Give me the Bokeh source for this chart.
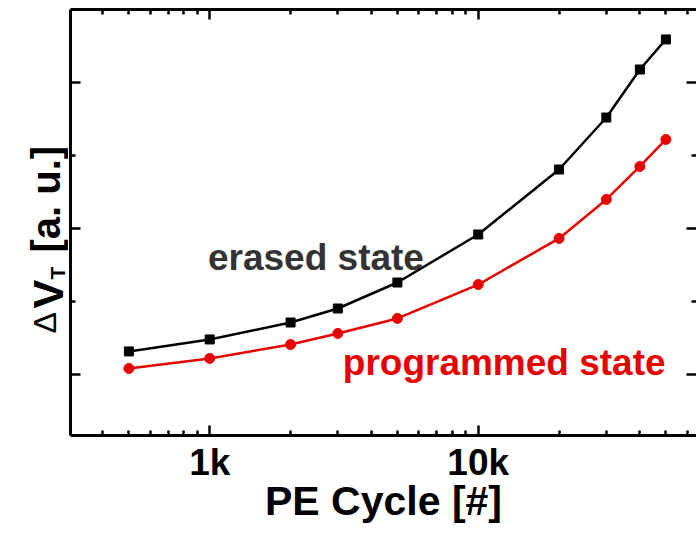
from math import pi
from bokeh.plotting import figure
from bokeh.layouts import row
from bokeh.core.properties import value
from bokeh.models import FixedTicker, LinearAxis, LogAxis, Label, Range1d
from bokeh.embed import file_html
from bokeh.resources import INLINE

# ---- data ----
pe_cycles = [500, 1000, 2000, 3000, 5000, 10000, 20000, 30000, 40000, 50000]
erased = [1.158, 1.240, 1.356, 1.452, 1.630, 1.959, 2.404, 2.760, 3.089, 3.295]
programmed = [1.041, 1.110, 1.205, 1.281, 1.384, 1.616, 1.932, 2.199, 2.425, 2.610]

x_tick_values = [1000, 10000]
x_tick_labels = ["1k", "10k"]
x_minor_ticks = [300, 400, 500, 600, 700, 800, 900,
                 2000, 3000, 4000, 5000, 6000, 7000, 8000, 9000,
                 20000, 30000, 40000, 50000, 60000]
y_tick_values = [1, 2, 3]
y_minor_ticks = [1.5, 2.5]

FONT = "Liberation Sans"
RED = "#e60000"
H = 536
LEFT_W = 68

# ---- main plot ----
p = figure(width=696 - LEFT_W, height=H, x_axis_type="log",
           x_range=Range1d(303, 65000), y_range=Range1d(0.582, 3.5),
           output_backend="svg", toolbar_location=None,
           min_border_left=2, min_border_right=0, min_border_top=9,
           min_border_bottom=101)
p.outline_line_color = None
p.xgrid.visible = False
p.ygrid.visible = False
p.background_fill_color = "white"
p.border_fill_color = "white"

xt = FixedTicker(ticks=x_tick_values, minor_ticks=x_minor_ticks)
yt = FixedTicker(ticks=y_tick_values, minor_ticks=y_minor_ticks)


def style(ax, labels=False):
    ax.axis_line_width = 3
    ax.axis_line_color = "black"
    ax.major_tick_in = 10
    ax.major_tick_out = 0
    ax.minor_tick_in = 5
    ax.minor_tick_out = 0
    ax.major_tick_line_width = 2.5
    ax.minor_tick_line_width = 2.5
    ax.major_tick_line_color = "black"
    ax.minor_tick_line_color = "black"
    if not labels:
        ax.major_label_text_font_size = "1px"
        ax.major_label_text_alpha = 0
        ax.major_label_standoff = 0


xb = p.xaxis[0]
xb.ticker = xt
style(xb, labels=True)
xb.major_label_overrides = {v: s for v, s in zip(x_tick_values, x_tick_labels)}
xb.major_label_text_font = FONT
xb.major_label_text_font_style = "bold"
xb.major_label_text_font_size = "37px"
xb.major_label_text_color = "black"
xb.major_label_standoff = 6
xb.axis_label = "PE Cycle [#]"
xb.axis_label_text_font = FONT
xb.axis_label_text_font_style = "bold"
xb.axis_label_text_font_size = "41px"
xb.axis_label_text_color = "black"
xb.axis_label_standoff = -8

yl = p.yaxis[0]
yl.ticker = yt
style(yl)

xa = LogAxis(ticker=xt)
style(xa)
p.add_layout(xa, "above")

yr = LinearAxis(ticker=yt)
style(yr)
yr.axis_line_color = None
p.add_layout(yr, "right")

# ---- data marks ----
p.line(pe_cycles, erased, line_color="black", line_width=2.5)
p.scatter(pe_cycles, erased, marker="square", size=9, color="black")
p.line(pe_cycles, programmed, line_color=RED, line_width=2.5)
p.scatter(pe_cycles, programmed, marker="circle", size=10, color=RED)

# ---- annotations ----
p.add_layout(Label(x=985, y=1.80, text="erased state", text_font=FONT,
                   text_font_style="bold", text_font_size="37px",
                   text_color="#333333", text_baseline="alphabetic"))
p.add_layout(Label(x=3130, y=1.082, text="programmed state", text_font=FONT,
                   text_font_style="bold", text_font_size="37px",
                   text_color=RED, text_baseline="alphabetic"))

# ---- y axis title panel (delta, V, subscript T, unit), pixel-like coords ----
q = figure(frame_width=LEFT_W, frame_height=H,
           x_range=Range1d(0, LEFT_W), y_range=Range1d(0, H),
           x_axis_location=None, y_axis_location=None,
           output_backend="svg", toolbar_location=None,
           min_border_left=0, min_border_right=0, min_border_top=0, min_border_bottom=0)
q.xgrid.visible = False
q.ygrid.visible = False
q.outline_line_color = None
q.background_fill_color = "white"
q.border_fill_color = "white"


def ylab(text, sx, sy, size, bold=True):
    q.text(x=[sx], y=[H - sy], text=[text], angle=pi / 2,
           text_font=value(FONT), text_font_style="bold" if bold else "normal",
           text_font_size=value(size), text_color="black",
           text_baseline="alphabetic", text_align="left")


ylab("\u0394", 44, 324, "32px", bold=False)
ylab("V", 47, 299, "43px")
ylab("T", 57, 270, "21px")
ylab("[a. u.]", 45, 243, "40px")

layout = row(q, p)
open("out.html", "w").write(file_html(layout, INLINE))
